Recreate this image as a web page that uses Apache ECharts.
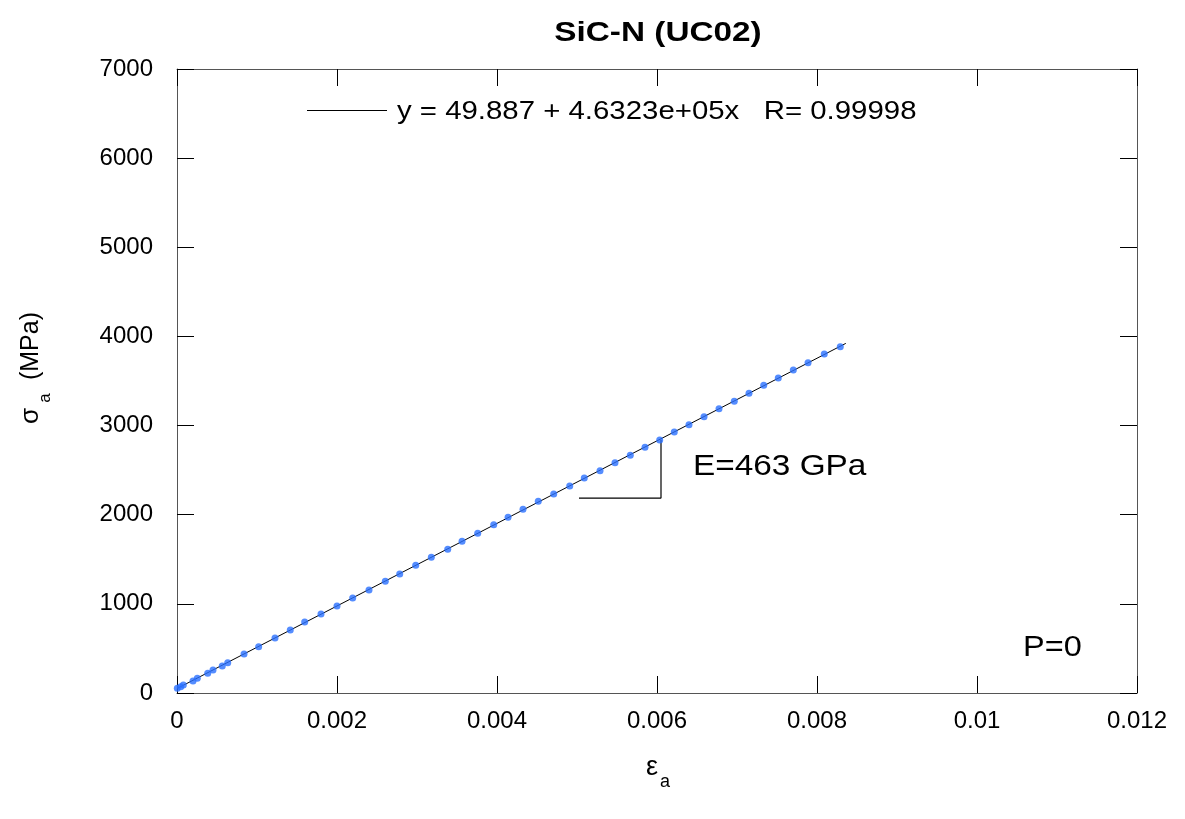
<!DOCTYPE html>
<html>
<head>
<meta charset="utf-8">
<script src="https://cdn.jsdelivr.net/npm/echarts@6/dist/echarts.min.js"></script>
<style>
html,body{margin:0;padding:0;background:#fff;}
#chart{width:1185px;height:819px;}
</style>
</head>
<body>
<div id="chart"></div>
<script>
// ---- data ----
const strain = [0.000004,0.000046,0.000079,0.0002,0.000254,0.000384,0.00045,0.000566,0.000634,0.000838,
  0.001021,0.001225,0.001416,0.001596,0.0018,0.002,0.002196,0.0024,0.002604,0.002784,
  0.002984,0.003179,0.003384,0.003563,0.003759,0.003959,0.004138,0.004325,0.004516,0.004709,
  0.004909,0.005091,0.005288,0.005475,0.005666,0.00585,0.006034,0.006216,0.0064,0.006588,
  0.006775,0.006966,0.00715,0.007334,0.007516,0.007704,0.007888,0.008091,0.008291];
const stress = [53,71,90,135,165,221,258,303,340,438,
  520,617,707,797,887,976,1066,1156,1254,1336,
  1433,1522,1612,1702,1792,1888,1971,2061,2150,2232,
  2322,2412,2494,2583,2667,2757,2838,2928,3010,3100,
  3189,3272,3362,3452,3534,3624,3705,3803,3885];
const fitX = [0, 0.00836];
const fitY = [50, 3922];
const triX = [0.005025, 0.00605, 0.00605];
const triY = [2187, 2187, 2840];
const xTicks = {min:0, max:0.012, interval:0.002};
const yTicks = {min:0, max:7000, interval:1000};
const titleText = 'SiC-N (UC02)';
const fitText = 'y = 49.887 + 4.6323e+05x   R= 0.99998';
const slopeText = 'E=463 GPa';
const pText = 'P=0';

const FONT = '"Liberation Sans", Arial, sans-serif';
const chart = echarts.init(document.getElementById('chart'), null, {renderer:'canvas'});

const zip = (a,b) => a.map((v,i)=>[v,b[i]]);
const fmt = v => String(+Number(v).toFixed(6));

function axisCommon(showLabel, pos, margin){
  return {
    position: pos,
    axisLine:{show:true, onZero:false, lineStyle:{color:'#555', width:1}},
    axisTick:{show:true, inside:true, length:17, lineStyle:{color:'#000', width:1}},
    axisLabel:{show:showLabel, color:'#000', fontFamily:FONT, fontSize:24, margin:margin, formatter:fmt},
    splitLine:{show:false}
  };
}

const option = {
  backgroundColor:'#fff',
  animation:false,
  grid:{left:177, right:48, top:69, bottom:126, containLabel:false},
  xAxis:[
    Object.assign({type:'value', min:xTicks.min, max:xTicks.max, interval:xTicks.interval}, axisCommon(true,'bottom',16)),
    Object.assign({type:'value', min:xTicks.min, max:xTicks.max, interval:xTicks.interval}, axisCommon(false,'top',8))
  ],
  yAxis:[
    Object.assign({type:'value', min:yTicks.min, max:yTicks.max, interval:yTicks.interval}, axisCommon(true,'left',24)),
    Object.assign({type:'value', min:yTicks.min, max:yTicks.max, interval:yTicks.interval}, axisCommon(false,'right',8))
  ],
  series:[
    {type:'line', data:zip(fitX,fitY), symbol:'none', lineStyle:{color:'#000', width:1}, z:2},
    {type:'line', data:zip(triX,triY), symbol:'none', lineStyle:{color:'#000', width:1.2}, z:2},
    {type:'scatter', data:zip(strain,stress), symbol:'circle', symbolSize:7, itemStyle:{color:'#2b70ff'}, z:3}
  ],
  graphic:[
    {type:'text', x:658, y:33, scaleX:1.19, style:{text:titleText, font:'bold 28px '+FONT, fill:'#000', textAlign:'center', textVerticalAlign:'middle'}},
    {type:'line', shape:{x1:307,y1:110.5,x2:387,y2:110.5}, style:{stroke:'#000', lineWidth:1}},
    {type:'text', x:397, y:112, scaleX:1.13, style:{text:fitText, font:'26px '+FONT, fill:'#000', textVerticalAlign:'middle'}},
    {type:'text', x:693, y:467, scaleX:1.15, style:{text:slopeText, font:'29px '+FONT, fill:'#000', textVerticalAlign:'middle'}},
    {type:'text', x:1023, y:648, scaleX:1.12, style:{text:pText, font:'29px '+FONT, fill:'#000', textVerticalAlign:'middle'}},
    // y axis name: sigma_a (MPa)
    {type:'text', x:31, y:416, rotation:Math.PI/2, style:{text:'σ', font:'26px '+FONT, fill:'#000', textAlign:'center', textVerticalAlign:'middle'}},
    {type:'text', x:45, y:398, rotation:Math.PI/2, style:{text:'a', font:'17px '+FONT, fill:'#000', textAlign:'center', textVerticalAlign:'middle'}},
    {type:'text', x:31, y:346, rotation:Math.PI/2, style:{text:'(MPa)', font:'25px '+FONT, fill:'#000', textAlign:'center', textVerticalAlign:'middle'}},
    // x axis name: epsilon_a
    {type:'text', x:652, y:768, style:{text:'ε', font:'27px '+FONT, fill:'#000', textAlign:'center', textVerticalAlign:'middle'}},
    {type:'text', x:665, y:782, style:{text:'a', font:'18px '+FONT, fill:'#000', textAlign:'center', textVerticalAlign:'middle'}}
  ]
};
chart.setOption(option);
</script>
</body>
</html>
